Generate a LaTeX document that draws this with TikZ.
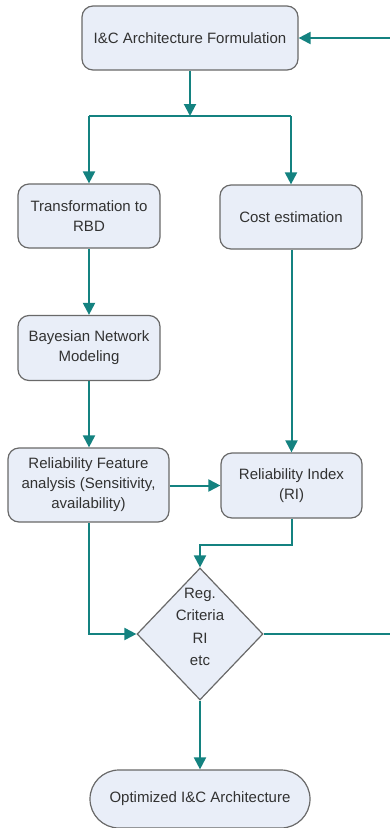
\documentclass[tikz,border=0pt]{standalone}
\usepackage{fontspec}
\setmainfont{Liberation Sans}
\usetikzlibrary{shapes.geometric,arrows.meta}
\definecolor{teal1}{RGB}{20,130,128}
\definecolor{boxfill}{RGB}{233,238,248}
\definecolor{boxdraw}{RGB}{105,105,105}
\definecolor{txt}{RGB}{50,50,50}
\tikzset{
  box/.style={draw=boxdraw,line width=1.2pt,fill=boxfill,rounded corners=11pt,align=center,
    text=txt,font=\fontsize{15}{20}\selectfont,inner sep=1pt},
  flow/.style={draw=teal1,line width=2pt,-{Triangle[length=12pt,width=12pt]}},
  plain/.style={draw=teal1,line width=2pt},
  lbl/.style={align=center,text=txt,font=\fontsize{15}{22.5}\selectfont,inner sep=0pt}
}
\begin{document}
\begin{tikzpicture}[x=1pt,y=1pt]
\useasboundingbox (0,0) rectangle (390,-828);
\node[box,minimum width=216pt,minimum height=64pt] (top) at (190,-38) {I\&C Architecture Formulation};
\node[box,minimum width=142pt,minimum height=64pt] (trans) at (89,-216) {Transformation to\\RBD};
\node[box,minimum width=142pt,minimum height=64pt] (cost) at (291,-217) {Cost estimation};
\node[box,minimum width=142pt,minimum height=65pt] (bayes) at (89,-348) {Bayesian Network\\Modeling};
\node[box,minimum width=161pt,minimum height=74pt] (rf) at (88.5,-485) {Reliability Feature\\analysis (Sensitivity,\\availability)};
\node[box,minimum width=141pt,minimum height=65pt] (ri) at (291.5,-485.5) {Reliability Index\\(RI)};
\node[diamond,draw=boxdraw,line width=1.2pt,fill=boxfill,minimum width=126pt,minimum height=132pt,inner sep=0pt] (dia) at (200,-634) {};
\node[lbl] (diatext) at (200,-627) {Reg.\\Criteria\\RI\\etc};
\node[box,rounded corners=29pt,minimum width=220pt,minimum height=58pt] (opt) at (200,-799) {Optimized I\&C Architecture};
\coordinate (split) at (190,-116);
\coordinate (sl) at (89,-116);
\coordinate (sr) at (291,-116);
\coordinate (ribend) at (291.5,-545);
\coordinate (ribend2) at (200,-545);
\coordinate (rfbend) at (88.5,-634);
\coordinate (outr) at (390,-634);
\coordinate (inr) at (390,-38);
\draw[flow] (top.south) -- (split);
\draw[plain] (sl) -- (sr);
\draw[flow] (sl) -- (trans.north);
\draw[flow] (sr) -- (cost.north);
\draw[flow] (trans) -- (bayes);
\draw[flow] (bayes.south) -- (rf.north -| bayes.south);
\draw[flow] (cost.south -| ri.north) -- (ri.north);
\draw[flow] (rf.east |- ri.west) -- (ri.west);
\draw[flow] (ri.south) -- (ribend) -- (ribend2) -- (dia.north);
\draw[flow] (rf.south) -- (rfbend) -- (dia.west);
\draw[plain] (dia.east) -- (outr);
\draw[flow] (inr) -- (top.east);
\draw[flow] (dia.south) -- (opt.north);
\end{tikzpicture}
\end{document}
